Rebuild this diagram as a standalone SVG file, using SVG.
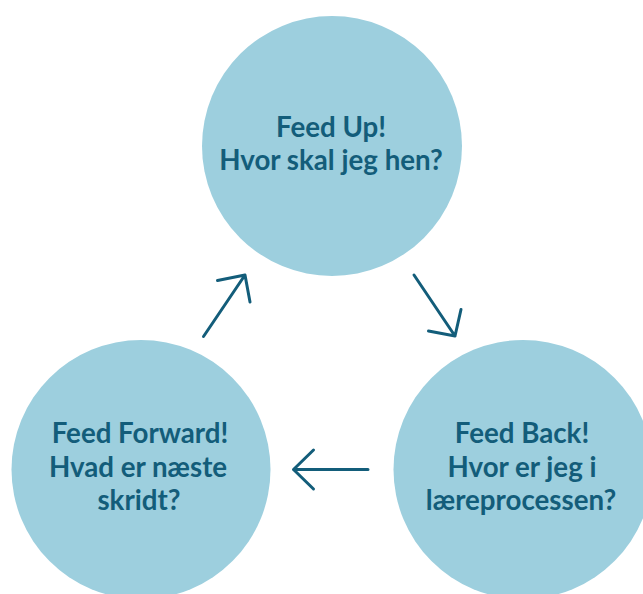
<svg xmlns="http://www.w3.org/2000/svg" width="643" height="594" viewBox="0 0 643 594">
<style>
.node{fill:#9dcfde}
.lbl{font-family:Lato,"Open Sans","Liberation Sans",sans-serif;font-weight:700;font-size:27.7px;fill:#135d7a;text-anchor:middle}
.arr{fill:none;stroke:#135d7a;stroke-width:3;stroke-linecap:round;stroke-linejoin:round}
</style>
<rect width="643" height="594" fill="#ffffff"/>
<g id="feed-up">
<circle class="node" cx="332" cy="146" r="130"/>
<text class="lbl" x="331" y="137">Feed Up!</text>
<text class="lbl" x="331" y="170">Hvor skal jeg hen?</text>
</g>
<g id="feed-back">
<circle class="node" cx="523" cy="469.5" r="129.5"/>
<text class="lbl" x="522" y="443">Feed Back!</text>
<text class="lbl" x="522" y="477">Hvor er jeg i</text>
<text class="lbl" x="521" y="510">læreprocessen?</text>
</g>
<g id="feed-forward">
<circle class="node" cx="141" cy="469.5" r="129.5"/>
<text class="lbl" x="140" y="443">Feed Forward!</text>
<text class="lbl" x="138" y="477">Hvad er næste</text>
<text class="lbl" x="139" y="510">skridt?</text>
</g>
<g id="connectors">
<path class="arr" d="M203.5,336.5 L245,275 M217.5,280.5 L245,275 L250,302"/>
<path class="arr" d="M414,275 L455,336 M428.5,331 L455,336 L461,309.5"/>
<path class="arr" d="M368,469.5 L293.5,469.5 M313.5,450 L293.5,469.5 L313.5,489"/>
</g>
</svg>
